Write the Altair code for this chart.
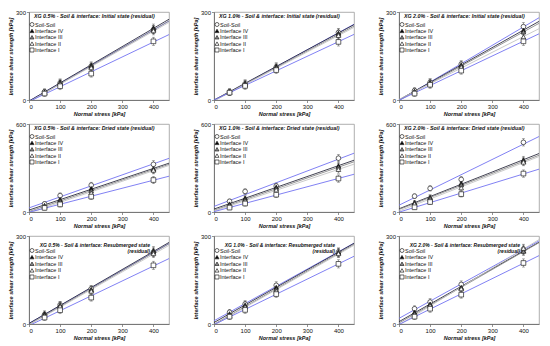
import altair as alt
import pandas as pd

stress = [50, 100, 200, 400]
series = ["Soil-Soil", "Interface IV", "Interface III", "Interface II", "Interface I"]
shapes = ["circle", "triangle-up", "triangle-up", "triangle-up", "square"]
fills = ["white", "black", "#8c8c8c", "white", "white"]
line_colors = ["#7373f2", "#2e2e40", "#8a8a8a", "#c4c4c4", "#7373f2"]

init_05 = {"Soil-Soil": [28, 58, 115, 240], "Interface IV": [27, 60, 118, 245],
           "Interface III": [25, 56, 113, 240], "Interface II": [25, 55, 110, 236],
           "Interface I": [22, 47, 90, 200]}
init_10 = {"Soil-Soil": [28, 55, 112, 230], "Interface IV": [28, 57, 115, 228],
           "Interface III": [27, 54, 110, 224], "Interface II": [26, 52, 108, 220],
           "Interface I": [25, 48, 102, 198]}
init_20 = {"Soil-Soil": [32, 60, 122, 250], "Interface IV": [30, 60, 120, 238],
           "Interface III": [28, 57, 116, 232], "Interface II": [27, 55, 112, 215],
           "Interface I": [22, 52, 100, 200]}
dried_05 = {"Soil-Soil": [55, 112, 183, 325], "Interface IV": [45, 85, 160, 295],
            "Interface III": [40, 75, 145, 290], "Interface II": [35, 65, 130, 285],
            "Interface I": [28, 52, 105, 218]}
dried_10 = {"Soil-Soil": [73, 140, 177, 367], "Interface IV": [55, 95, 170, 315],
            "Interface III": [48, 85, 160, 305], "Interface II": [42, 75, 150, 290],
            "Interface I": [30, 58, 118, 228]}
dried_20 = {"Soil-Soil": [108, 161, 222, 475], "Interface IV": [65, 100, 195, 355],
            "Interface III": [60, 95, 185, 345], "Interface II": [55, 85, 165, 340],
            "Interface I": [32, 68, 122, 262]}
resub_05 = {"Soil-Soil": [32, 65, 120, 245], "Interface IV": [35, 65, 118, 250],
            "Interface III": [30, 62, 115, 245], "Interface II": [28, 60, 112, 240],
            "Interface I": [22, 47, 90, 200]}
resub_10 = {"Soil-Soil": [40, 68, 132, 245], "Interface IV": [35, 65, 125, 245],
            "Interface III": [30, 60, 118, 242], "Interface II": [28, 58, 112, 240],
            "Interface I": [25, 48, 102, 205]}
resub_20 = {"Soil-Soil": [52, 75, 135, 255], "Interface IV": [40, 68, 125, 250],
            "Interface III": [35, 65, 122, 248], "Interface II": [32, 62, 120, 258],
            "Interface I": [25, 52, 100, 208]}

err_low = [10, 12, 12, 14]
err_high = [15, 18, 20, 25]
ticks_300 = [0, 100, 200, 300]
ticks_600 = [0, 200, 400, 600]
x_ticks = [0, 100, 200, 300, 400]

FONT = "Liberation Sans"
W, H = 140, 88


def panel(title_lines, vals, err, ymax, yticks):
    rows = []
    for s in series:
        for x, y, e in zip(stress, vals[s], err):
            rows.append({"series": s, "stress": x, "shear": y, "lo": y - e, "hi": y + e})
    df = pd.DataFrame(rows)
    base = alt.Chart(df)
    xsc = alt.Scale(domain=[0, 450], nice=False)
    ysc = alt.Scale(domain=[0, ymax], nice=False)
    xax = alt.Axis(values=x_ticks, title="Normal stress [kPa]")
    yax = alt.Axis(values=yticks, title="Interface shear strength [kPa]")
    X = alt.X("stress:Q", scale=xsc, axis=xax)
    shape_sc = alt.Scale(domain=series, range=shapes)
    fill_sc = alt.Scale(domain=series, range=fills)
    lines = base.transform_regression(
        "stress", "shear", groupby=["series"], extent=[0, 450]
    ).mark_line(strokeWidth=0.9, clip=True).encode(
        x=X,
        y=alt.Y("shear:Q", scale=ysc, axis=yax),
        color=alt.Color("series:N", scale=alt.Scale(domain=series, range=line_colors), legend=None),
    )
    bars = base.mark_rule(color="#555555", strokeWidth=0.6).encode(
        x=X, y=alt.Y("lo:Q", scale=ysc), y2="hi:Q")
    cap_lo = base.mark_tick(orient="horizontal", size=3, thickness=0.6, color="#555555").encode(
        x=X, y=alt.Y("lo:Q", scale=ysc))
    cap_hi = base.mark_tick(orient="horizontal", size=3, thickness=0.6, color="#555555").encode(
        x=X, y=alt.Y("hi:Q", scale=ysc))
    pts = base.mark_point(filled=True, stroke="#222222", strokeWidth=0.7, size=22, opacity=1).encode(
        x=X,
        y=alt.Y("shear:Q", scale=ysc),
        shape=alt.Shape("series:N", scale=shape_sc, legend=None),
        fill=alt.Fill("series:N", scale=fill_sc, legend=None),
    )
    main = alt.layer(lines, bars, cap_lo, cap_hi, pts)

    # in-plot legend (key), top-left corner
    two = len(title_lines) > 1
    key_df = pd.DataFrame({"series": series, "rank": list(range(len(series)))})
    key_y = alt.Y("rank:Q", scale=alt.Scale(domain=[0, 4], range=[14.5, 41] if two else [12.5, 38]),
                  axis=None)
    key_base = alt.Chart(key_df)
    key_pts = key_base.mark_point(filled=True, stroke="#222222", strokeWidth=0.7, size=16,
                                  opacity=1).encode(
        x=alt.value(3), y=key_y,
        shape=alt.Shape("series:N", scale=shape_sc, legend=None),
        fill=alt.Fill("series:N", scale=fill_sc, legend=None),
    )
    key_txt = key_base.mark_text(align="left", baseline="middle", font=FONT, fontSize=5.5,
                                 color="#111111").encode(x=alt.value(6), y=key_y, text="series:N")
    key = alt.layer(key_pts, key_txt)

    if not two:
        tp = alt.TitleParams(text=title_lines[0], anchor="start", frame="group", fontSize=5.3,
                             font=FONT, fontStyle="italic", fontWeight="bold", color="#111111",
                             offset=-10.5, dx=5)
    else:
        tp = alt.TitleParams(text=title_lines, anchor="start", align="right", frame="group",
                             fontSize=5.0, font=FONT, fontStyle="italic", fontWeight="bold",
                             color="#111111", offset=-20.5, dx=121, lineHeight=5.5)
    return alt.layer(main, key).resolve_scale(y="independent").properties(
        width=W, height=H, title=tp)


def indep(c):
    return c.resolve_scale(x="independent", y="independent", color="independent",
                           shape="independent", fill="independent")


SP = 23
row1 = indep(alt.hconcat(
    panel(["XG 0.5% - Soil & interface: Initial state (residual)"], init_05, err_low, 300, ticks_300),
    panel(["XG 1.0% - Soil & interface: Initial state (residual)"], init_10, err_low, 300, ticks_300),
    panel(["XG 2.0% - Soil & interface: Initial state (residual)"], init_20, err_low, 300, ticks_300),
    spacing=SP))
row2 = indep(alt.hconcat(
    panel(["XG 0.5% - Soil & interface: Dried state (residual)"], dried_05, err_high, 600, ticks_600),
    panel(["XG 1.0% - Soil & interface: Dried state (residual)"], dried_10, err_high, 600, ticks_600),
    panel(["XG 2.0% - Soil & interface: Dried state (residual)"], dried_20, err_high, 600, ticks_600),
    spacing=SP))
row3 = indep(alt.hconcat(
    panel(["XG 0.5% - Soil & interface: Resubmerged state", "(residual)"], resub_05, err_low, 300, ticks_300),
    panel(["XG 1.0% - Soil & interface: Resubmerged state", "(residual)"], resub_10, err_low, 300, ticks_300),
    panel(["XG 2.0% - Soil & interface: Resubmerged state", "(residual)"], resub_20, err_low, 300, ticks_300),
    spacing=SP))

chart = indep(alt.vconcat(row1, row2, row3, spacing=2)).properties(
    padding=0, background="white"
).configure_view(
    stroke="#9a9a9a", strokeWidth=0.8
).configure_axis(
    labelFont=FONT, labelFontSize=6, labelColor="#111111", labelPadding=1,
    titleFont=FONT, titleFontSize=5.5, titleFontStyle="italic", titleFontWeight="bold",
    titleColor="#111111", titlePadding=2, domainColor="#666666", domainWidth=0.8,
    tickColor="#666666", tickSize=2.5, tickWidth=0.7, grid=False
)

chart.save("out.html", embed_options={"renderer": "svg", "actions": False})
